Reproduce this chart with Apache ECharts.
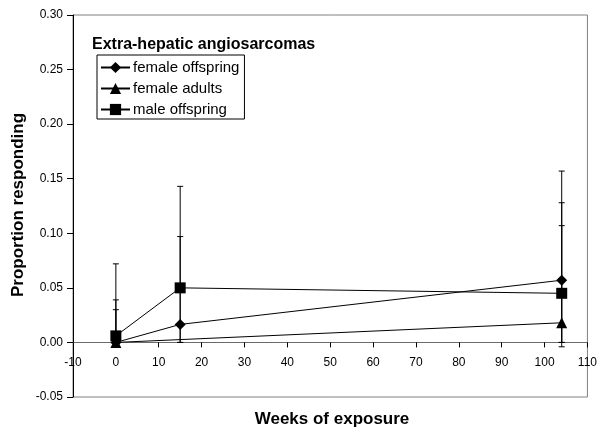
<!DOCTYPE html>
<html>
<head>
<meta charset="utf-8">
<script src="https://cdn.jsdelivr.net/npm/echarts@6/dist/echarts.min.js"></script>
<style>
  html, body { margin: 0; padding: 0; background: #fff; }
  #chart { width: 600px; height: 432px; }
</style>
</head>
<body>
<div id="chart"></div>
<script>
// Exposure time points (weeks)
const weeks = [0, 15, 104];

// Proportion responding per group (null = no observation)
const femaleOffspring = [0, 0.0165, 0.057];
const femaleAdults = [0, null, 0.018];
const maleOffspring = [0.006, 0.050, 0.045];

// Confidence limits per group
const femaleOffspringHigh = [0.039, 0.097, 0.128];
const femaleOffspringLow = [0, 0, 0];
const femaleAdultsHigh = [0.030, null, 0.157];
const femaleAdultsLow = [0, null, -0.004];
const maleOffspringHigh = [0.072, 0.143, 0.107];
const maleOffspringLow = [0, 0, 0];

// Axis ticks
const xTicks = { min: -10, max: 110, step: 10 };
const yTicks = { min: -0.05, max: 0.30, step: 0.05 };

const FONT = 'Arial, "Liberation Sans", sans-serif';

// Plot area box
const GRID = { left: 73, right: 8, top: 15, bottom: 35 };
const CHART_H = 432;

function pairs(values) {
  return weeks.map((w, i) => [w, values[i]]);
}

function errorRows(low, high) {
  const rows = [];
  weeks.forEach((w, i) => {
    if (low[i] != null && high[i] != null) rows.push([w, low[i], high[i]]);
  });
  return rows;
}

const errorData = []
  .concat(errorRows(femaleOffspringLow, femaleOffspringHigh))
  .concat(errorRows(femaleAdultsLow, femaleAdultsHigh))
  .concat(errorRows(maleOffspringLow, maleOffspringHigh));

function renderError(params, api) {
  const x = api.value(0);
  const lo = api.coord([x, api.value(1)]);
  const hi = api.coord([x, api.value(2)]);
  const half = 3;
  const style = { stroke: '#000', lineWidth: 1, fill: null };
  return {
    type: 'group',
    children: [
      { type: 'line', shape: { x1: hi[0], y1: hi[1], x2: lo[0], y2: lo[1] }, style },
      { type: 'line', shape: { x1: hi[0] - half, y1: hi[1], x2: hi[0] + half, y2: hi[1] }, style },
      { type: 'line', shape: { x1: lo[0] - half, y1: lo[1], x2: lo[0] + half, y2: lo[1] }, style }
    ]
  };
}

function lineSeries(name, values, symbol, size) {
  return {
    name,
    type: 'line',
    data: pairs(values),
    connectNulls: true,
    symbol,
    symbolSize: size,
    showAllSymbol: true,
    lineStyle: { color: '#000', width: 1 },
    itemStyle: { color: '#000', borderWidth: 0 },
    emphasis: { disabled: true },
    z: 3
  };
}

// The category axis sits where the value axis reads zero
const plotH = CHART_H - GRID.top - GRID.bottom;
const zeroOffset = -plotH * (0 - yTicks.min) / (yTicks.max - yTicks.min);

const chart = echarts.init(document.getElementById('chart'), null, { renderer: 'canvas' });

chart.setOption({
  animation: false,
  backgroundColor: '#fff',
  textStyle: { fontFamily: FONT },
  title: {
    text: 'Extra-hepatic angiosarcomas',
    left: 87,
    top: 32,
    textStyle: { fontFamily: FONT, fontSize: 16, fontWeight: 'bold', color: '#000' }
  },
  legend: {
    orient: 'vertical',
    left: 97,
    top: 55,
    padding: [5, 5, 2, 3],
    itemGap: 6,
    itemWidth: 29,
    itemHeight: 14,
    borderColor: '#000',
    borderWidth: 1,
    backgroundColor: '#fff',
    textStyle: { fontFamily: FONT, fontSize: 15, color: '#000', padding: [0, 0, 0, -2] },
    data: ['female offspring', 'female adults', 'male offspring']
  },
  grid: {
    left: GRID.left,
    right: GRID.right,
    top: GRID.top,
    bottom: GRID.bottom,
    show: true,
    borderColor: '#808080',
    borderWidth: 1
  },
  xAxis: {
    type: 'value',
    min: xTicks.min,
    max: xTicks.max,
    interval: xTicks.step,
    offset: zeroOffset,
    axisLine: { onZero: false, lineStyle: { color: '#6a6a6a', width: 1 } },
    axisTick: { show: true, inside: false, length: 5, lineStyle: { color: '#000' } },
    axisLabel: { margin: 14, fontFamily: FONT, fontSize: 12, color: '#000' },
    splitLine: { show: false }
  },
  yAxis: {
    type: 'value',
    min: yTicks.min,
    max: yTicks.max,
    interval: yTicks.step,
    axisLine: { show: true, onZero: false, lineStyle: { color: '#000', width: 1 } },
    axisTick: { show: true, inside: false, length: 6, lineStyle: { color: '#000' } },
    axisLabel: {
      margin: 10,
      fontFamily: FONT,
      fontSize: 12,
      color: '#000',
      formatter: (v) => v.toFixed(2)
    },
    splitLine: { show: false }
  },
  graphic: [
    {
      type: 'text',
      x: 18,
      y: 205,
      rotation: Math.PI / 2,
      style: {
        text: 'Proportion responding',
        font: 'bold 17px ' + FONT,
        fill: '#000',
        align: 'center',
        verticalAlign: 'middle'
      }
    },
    {
      type: 'text',
      x: 332,
      y: 419,
      style: {
        text: 'Weeks of exposure',
        font: 'bold 17px ' + FONT,
        fill: '#000',
        align: 'center',
        verticalAlign: 'middle'
      }
    }
  ],
  series: [
    {
      type: 'custom',
      renderItem: renderError,
      data: errorData,
      encode: { x: 0, y: [1, 2] },
      silent: true,
      z: 2
    },
    lineSeries('female offspring', femaleOffspring, 'diamond', 11),
    lineSeries('female adults', femaleAdults, 'triangle', 11),
    lineSeries('male offspring', maleOffspring, 'rect', 11)
  ]
});
</script>
</body>
</html>
